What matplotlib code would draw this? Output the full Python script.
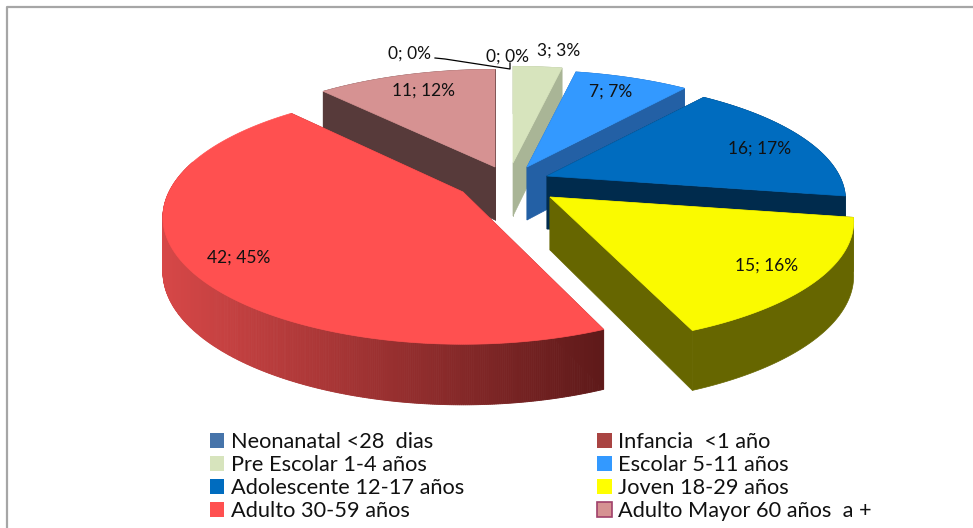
import numpy as np
import matplotlib
matplotlib.use("Agg")
import matplotlib.pyplot as plt
from matplotlib.patches import Patch

categories = ["Neonanatal <28  dias", "Infancia  <1 año", "Pre Escolar 1-4 años", "Escolar 5-11 años",
              "Adolescente 12-17 años", "Joven 18-29 años", "Adulto 30-59 años", "Adulto Mayor 60 años  a +"]
values = [0, 0, 3, 7, 16, 15, 42, 11]
percents = [0, 0, 3, 7, 17, 16, 45, 12]

top_colors = ["#4674AA", "#A94442", "#D7E4BD", "#3399FF", "#006CBF", "#FAFA00", "#FF5050", "#D69292"]
wall_colors = ["#2B4A70", "#6A2A2A", "#A9B596", "#2360A5", "#002B4D", "#666600", "#A03030", "#573A3A"]
legend_colors = ["#4674AA", "#A94442", "#D7E4BD", "#3399FF", "#006CBF", "#FFFF00", "#FF5050", "#D69292"]

# apex of each slice on the picture (the explosion), pixels
apex = [(505, 165), (505, 165), (513, 163), (527, 167), (547, 176), (550, 197), (463, 192), (495, 167)]
# small corrections of the disc per slice (x, y)
scales = [(1, 1), (1, 1), (1, 1), (1, 1), (0.995, 1), (1.012, 1.02), (1.0, 1.05), (1.0, 1.01)]
label_pos = [(409, 53), (508, 56), (559, 50), (611, 91), (760, 148), (767, 265), (239, 257), (424, 90)]

# perspective of the disc
AX, BY, PERSP, DEPTH = 294.0, 116.0, 0.2, 53.0


def project(theta, c, s):
    u, v = np.sin(theta), np.cos(theta)
    w = 1 + PERSP * v
    return c[0] + s[0] * AX * u / w, c[1] - s[1] * BY * v / w


def drop(theta):
    return DEPTH / (1 + PERSP * np.cos(theta)) ** 0.6


def shade_red(t):
    # wall of the big slice goes darker to the right
    c0 = np.array([0.84, 0.28, 0.28])
    c1 = np.array([0.37, 0.10, 0.10])
    return c0 + (c1 - c0) * t


fig = plt.figure(figsize=(9.73, 5.28), dpi=100)
ax = fig.add_axes([0, 0, 1, 1])
ax.set_xlim(0, 973)
ax.set_ylim(528, 0)
ax.axis("off")

# frame, only left and top show
ax.plot([7, 7, 973], [528, 6.5, 6.5], color="#A6A6A6", lw=1.6, zorder=1)

angles = np.cumsum([0] + values) / sum(values) * 2 * np.pi
order = [7, 2, 3, 4, 5, 6]
for z, i in enumerate(order):
    a0, a1 = angles[i], angles[i + 1]
    c = apex[i]
    zb = 2 + z
    th = np.linspace(a0, a1, 500)
    xs, ys = project(th, c, scales[i])
    ds = drop(th)
    # radial walls
    for x_e, y_e, d_e in [(xs[0], ys[0], ds[0]), (xs[-1], ys[-1], ds[-1])]:
        ax.fill([c[0], x_e, x_e, c[0]], [c[1], y_e, y_e + d_e, c[1] + DEPTH],
                color=wall_colors[i], lw=0.5, zorder=zb)
    # outer wall
    if i == 6:
        vis = th < np.deg2rad(285)
        xv, yv, dv = xs[vis], ys[vis], ds[vis]
        x_min, x_max = xv.min(), xv.max()
        for k in range(len(xv) - 1):
            t = (xv[k] - x_min) / (x_max - x_min)
            ax.fill([xv[k], xv[k + 1], xv[k + 1], xv[k]],
                    [yv[k], yv[k + 1], yv[k + 1] + dv[k + 1], yv[k] + dv[k]],
                    color=shade_red(t), lw=0.6, zorder=zb)
    else:
        ax.fill(np.r_[xs, xs[::-1]], np.r_[ys, (ys + ds)[::-1]], color=wall_colors[i], lw=0.5, zorder=zb)
    # top face
    ax.fill(np.r_[c[0], xs], np.r_[c[1], ys], color=top_colors[i], lw=0.5, zorder=zb)

# labels
for i in range(len(values)):
    ax.text(label_pos[i][0], label_pos[i][1] + 1, f"{values[i]}; {percents[i]}%", fontsize=12.5,
            family="Lato", color="#111111", ha="center", va="center", zorder=20)

# leader lines of the zero slices
ax.plot([435, 445, 510, 510], [58, 59, 69, 63], color="black", lw=0.9, zorder=19)

# legend goes row by row in the picture
idx = [0, 2, 4, 6, 1, 3, 5, 7]
handles = []
for i in idx:
    if i == 7:
        handles.append(Patch(facecolor=legend_colors[i], edgecolor="#A0406A", lw=1.2))
    else:
        handles.append(Patch(facecolor=legend_colors[i], edgecolor="none"))
ax.legend(handles, [categories[i] for i in idx], ncol=2, loc="upper left", bbox_to_anchor=(210 / 973, 1 - 432 / 528),
          frameon=False, prop={"family": "Lato", "size": 15.7}, handlelength=0.66, handleheight=0.66,
          handletextpad=0.3, labelspacing=0.14, columnspacing=6.1, borderpad=0, borderaxespad=0, labelcolor="#111111")

fig.savefig("out.png", dpi=100)
